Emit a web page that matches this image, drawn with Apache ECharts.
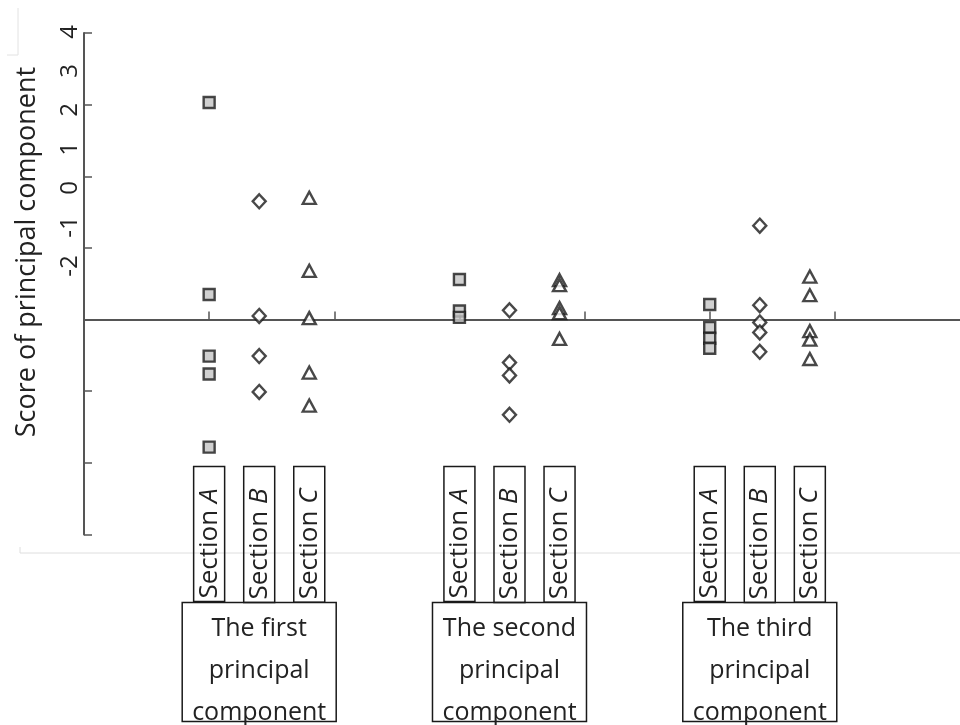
<!DOCTYPE html>
<html>
<head>
<meta charset="utf-8">
<script src="https://cdn.jsdelivr.net/npm/echarts@6/dist/echarts.min.js"></script>
<style>
  html, body { margin: 0; padding: 0; background: #ffffff; }
  #chart { width: 960px; height: 725px; }
</style>
</head>
<body>
<div id="chart"></div>
<script>
// Principal component groups and the three sections within each
const componentNames = ['The first\nprincipal\ncomponent', 'The second\nprincipal\ncomponent', 'The third\nprincipal\ncomponent'];
const sectionNames = ['A', 'B', 'C'];
const yAxisTitle = 'Score of principal component';

// Scores per component (outer) for each section
const sectionA = [
  [3.03, 0.35, -0.51, -0.76, -1.78],
  [0.56, 0.12, 0.03],
  [0.21, -0.11, -0.26, -0.40]
];
const sectionB = [
  [1.65, 0.05, -0.51, -1.01],
  [0.13, -0.60, -0.78, -1.33],
  [1.31, 0.20, -0.04, -0.18, -0.45]
];
const sectionC = [
  [1.70, 0.68, 0.02, -0.74, -1.20],
  [0.55, 0.48, 0.16, 0.09, -0.27],
  [0.60, 0.34, -0.16, -0.28, -0.55]
];

// Horizontal slot of a section inside its component group
const GROUP_WIDTH = 5;
const FIRST_SLOT = 2.5;
function slot(g, s) { return g * GROUP_WIDTH + s + FIRST_SLOT; }

function points(groups, s) {
  const out = [];
  groups.forEach((vals, g) => vals.forEach(v => out.push([slot(g, s), v])));
  return out;
}

const sectionTicks = [];
const sectionTickNames = [];
componentNames.forEach((_, g) => sectionNames.forEach((name, s) => {
  sectionTicks.push(slot(g, s));
  sectionTickNames.push(name);
}));
const groupTicks = componentNames.map((_, g) => slot(g, 1));
const axisTicks = [2.5, 5, 7.5, 10, 12.5, 15];

function nearestIndex(list, v) {
  let best = 0;
  list.forEach((x, i) => { if (Math.abs(x - v) < Math.abs(list[best] - v)) best = i; });
  return best;
}

const FONT = 'Open Sans';
const TEXT = '#222222';
const AXIS = '#555555';
const INK = '#1a1a1a';

const chart = echarts.init(document.getElementById('chart'), null, { renderer: 'canvas' });

const markerStyle = { color: '#ffffff', borderColor: INK, borderWidth: 2.4 };

chart.setOption({
  animation: false,
  backgroundColor: '#ffffff',
  grid: [
    { left: 84, top: 33, right: 0, height: 503, containLabel: false },
    { left: 84, top: 32, width: 10, height: 234, containLabel: false }
  ],
  xAxis: [
    {
      gridIndex: 0, type: 'value', min: 0, max: 17.5,
      axisLine: { onZero: true, lineStyle: { color: AXIS, width: 2 } },
      axisTick: { show: true, inside: true, length: 8, customValues: axisTicks, lineStyle: { color: AXIS, width: 1.5 } },
      axisLabel: { show: false },
      splitLine: { show: false }
    },
    {
      // boxed section labels
      gridIndex: 0, type: 'value', min: 0, max: 17.5, position: 'bottom', offset: -68,
      axisLine: { show: false, onZero: false },
      axisTick: { show: false },
      splitLine: { show: false },
      axisLabel: {
        show: true, customValues: sectionTicks, rotate: 90, margin: 0,
        formatter: v => 'Section {i|' + sectionTickNames[nearestIndex(sectionTicks, v)] + '}',
        fontFamily: FONT, fontSize: 26, color: TEXT, lineHeight: 31,
        borderColor: INK, borderWidth: 1.5, padding: [0, 22, 0, 3],
        rich: { i: { fontStyle: 'italic', fontFamily: FONT, fontSize: 26, color: TEXT, lineHeight: 31 } }
      }
    },
    {
      // boxed component labels
      gridIndex: 0, type: 'value', min: 0, max: 17.5, position: 'bottom', offset: 68,
      axisLine: { show: false, onZero: false },
      axisTick: { show: false },
      splitLine: { show: false },
      axisLabel: {
        show: true, customValues: groupTicks, margin: 0,
        formatter: v => componentNames[nearestIndex(groupTicks, v)],
        fontFamily: FONT, fontSize: 25, color: TEXT, lineHeight: 42,
        width: 154, height: 114, align: 'center',
        borderColor: INK, borderWidth: 1.5, padding: [5, 0, 0, 0]
      }
    },
    { gridIndex: 1, type: 'value', show: false }
  ],
  yAxis: [
    {
      gridIndex: 0, type: 'value', min: -3, max: 4, interval: 1,
      axisLine: { show: true, onZero: false, lineStyle: { color: AXIS, width: 2 } },
      axisTick: { show: true, inside: true, length: 8, lineStyle: { color: AXIS, width: 1.5 } },
      axisLabel: { show: false },
      splitLine: { show: false }
    },
    {
      gridIndex: 1, type: 'value', min: -2, max: 4, interval: 1,
      axisLine: { show: false }, axisTick: { show: false }, splitLine: { show: false },
      axisLabel: { show: true, rotate: 90, margin: 2, fontFamily: FONT, fontSize: 24, color: TEXT }
    }
  ],
  graphic: [
    {
      type: 'text', x: 27, y: 252, rotation: Math.PI / 2,
      style: { text: yAxisTitle, fontFamily: FONT, fontSize: 27, fill: TEXT, align: 'center', verticalAlign: 'middle' }
    },
    { type: 'line', shape: { x1: 20, y1: 553, x2: 960, y2: 553 }, style: { stroke: '#dedede', lineWidth: 1 }, silent: true },
    { type: 'line', shape: { x1: 20, y1: 547, x2: 20, y2: 553 }, style: { stroke: '#dedede', lineWidth: 1 }, silent: true },
    { type: 'line', shape: { x1: 18, y1: 8, x2: 18, y2: 55 }, style: { stroke: '#e2e2e2', lineWidth: 1 }, silent: true },
    { type: 'line', shape: { x1: 7, y1: 55, x2: 18, y2: 55 }, style: { stroke: '#e2e2e2', lineWidth: 1 }, silent: true }
  ],
  series: [
    {
      name: 'Section A', type: 'scatter', xAxisIndex: 0, yAxisIndex: 0,
      symbol: 'rect', symbolSize: [11, 11],
      itemStyle: Object.assign({}, markerStyle, { color: '#c4c4c4' }),
      data: points(sectionA, 0)
    },
    {
      name: 'Section B', type: 'scatter', xAxisIndex: 0, yAxisIndex: 0,
      symbol: 'diamond', symbolSize: [13, 14],
      itemStyle: markerStyle,
      data: points(sectionB, 1)
    },
    {
      name: 'Section C', type: 'scatter', xAxisIndex: 0, yAxisIndex: 0,
      symbol: 'triangle', symbolSize: [13, 12],
      itemStyle: markerStyle,
      data: points(sectionC, 2)
    }
  ]
});
</script>
</body>
</html>
